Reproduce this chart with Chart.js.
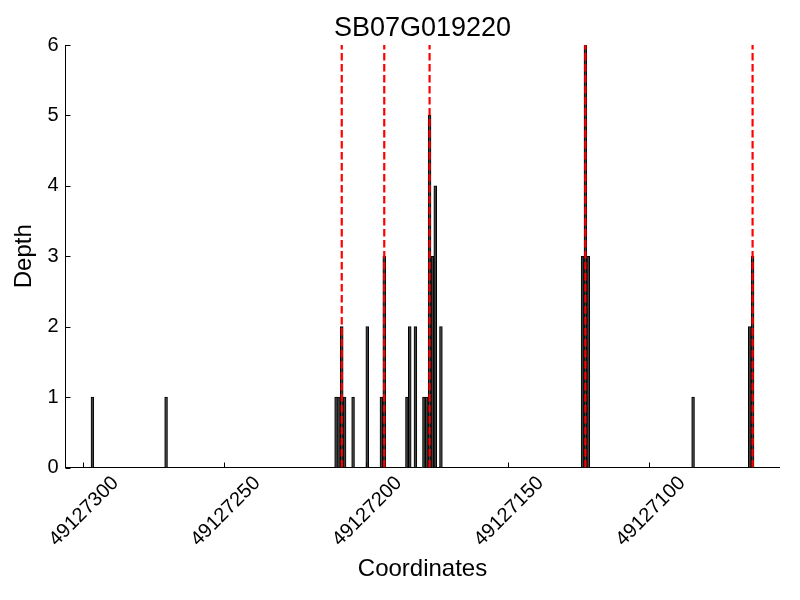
<!DOCTYPE html>
<html>
<head>
<meta charset="utf-8">
<script src="https://cdn.jsdelivr.net/npm/chart.js@4/dist/chart.umd.min.js"></script>
<style>
  body { margin: 0; background: #fff; }
</style>
</head>
<body>
<canvas id="depthChart" width="800" height="600"></canvas>
<script>
// read coverage: each coordinate covers one base [c, c+1]
const coords = [49127296, 49127270, 49127210, 49127209, 49127208, 49127207, 49127204, 49127199,
  49127194, 49127193, 49127185, 49127184, 49127182, 49127179, 49127178, 49127177, 49127176,
  49127175, 49127173, 49127123, 49127122, 49127121, 49127084, 49127064, 49127063];
const depths = [1, 1, 1, 1, 2, 1, 1, 2, 1, 3, 1, 2, 2, 1, 1, 5, 3, 4, 2, 3, 6, 3, 1, 2, 3];
// red dashed markers
const markers = [49127208, 49127193, 49127177, 49127122, 49127063];
const xTicks = [49127300, 49127250, 49127200, 49127150, 49127100];
const yTicks = [0, 1, 2, 3, 4, 5, 6];

const FONT = "'Liberation Sans', Arial, sans-serif";

const barData = coords.map((c, i) => ({ x: c + 0.5, y: depths[i] }));

const markerSets = markers.map(m => ({
    type: 'line',
    data: [{ x: m + 0.5, y: 0 }, { x: m + 0.5, y: 6 }],
    borderColor: '#ff0000',
    borderWidth: 2.2,
    borderDash: [7.5, 3.5],
    pointRadius: 0,
    fill: false,
    order: 0
}));

// matplotlib style ticks pointing into the plot
const insideTicks = {
    id: 'insideTicks',
    afterDraw(chart) {
        const { ctx, chartArea, scales } = chart;
        ctx.save();
        ctx.strokeStyle = '#000';
        ctx.lineWidth = 1;
        ctx.beginPath();
        xTicks.forEach(v => {
            const px = Math.round(scales.x.getPixelForValue(v)) + 0.5;
            ctx.moveTo(px, chartArea.bottom);
            ctx.lineTo(px, chartArea.bottom - 5);
        });
        yTicks.forEach(v => {
            const py = Math.round(scales.y.getPixelForValue(v)) + 0.5;
            ctx.moveTo(chartArea.left, py);
            ctx.lineTo(chartArea.left + 5, py);
        });
        ctx.stroke();
        ctx.restore();
    }
};

new Chart(document.getElementById('depthChart'), {
    data: {
        datasets: [{
            type: 'bar',
            data: barData,
            backgroundColor: '#404040',
            borderColor: '#000',
            borderWidth: 1,
            barPercentage: 1,
            categoryPercentage: 1,
            order: 1
        }].concat(markerSets)
    },
    options: {
        responsive: false,
        animation: false,
        layout: { padding: { left: 0, right: 20.5, top: 0, bottom: 0 } },
        plugins: {
            legend: { display: false },
            tooltip: { enabled: false },
            title: {
                display: true,
                text: 'SB07G019220',
                color: '#000',
                fullSize: false,
                font: { family: FONT, size: 27, weight: 'normal', lineHeight: 1 },
                padding: { top: 15.5, bottom: 2.5 }
            }
        },
        scales: {
            x: {
                type: 'linear',
                reverse: true,
                min: 49127054,
                max: 49127306,
                offset: false,
                grid: { display: false, drawTicks: false, offset: false },
                border: { display: true, color: '#000', width: 1 },
                afterFit: s => { s.height = 132.5; },
                afterBuildTicks: s => { s.ticks = xTicks.map(v => ({ value: v })); },
                ticks: {
                    color: '#000',
                    font: { family: FONT, size: 20 },
                    minRotation: 45,
                    maxRotation: 45,
                    padding: 4,
                    labelOffset: 33,
                    callback: v => String(v)
                },
                title: {
                    display: true,
                    text: 'Coordinates',
                    color: '#000',
                    font: { family: FONT, size: 24 },
                    padding: { top: 0, bottom: 16 }
                }
            },
            y: {
                min: 0,
                max: 6,
                grid: { display: false, drawTicks: false },
                border: { display: true, color: '#000', width: 1 },
                afterFit: s => { s.width = 65.5; },
                afterBuildTicks: s => { s.ticks = yTicks.map(v => ({ value: v })); },
                ticks: {
                    color: '#000',
                    font: { family: FONT, size: 20 },
                    padding: 7
                },
                title: {
                    display: true,
                    text: 'Depth',
                    color: '#000',
                    font: { family: FONT, size: 24 },
                    padding: { top: 10, bottom: 0 }
                }
            }
        }
    },
    plugins: [insideTicks]
});
</script>
</body>
</html>
